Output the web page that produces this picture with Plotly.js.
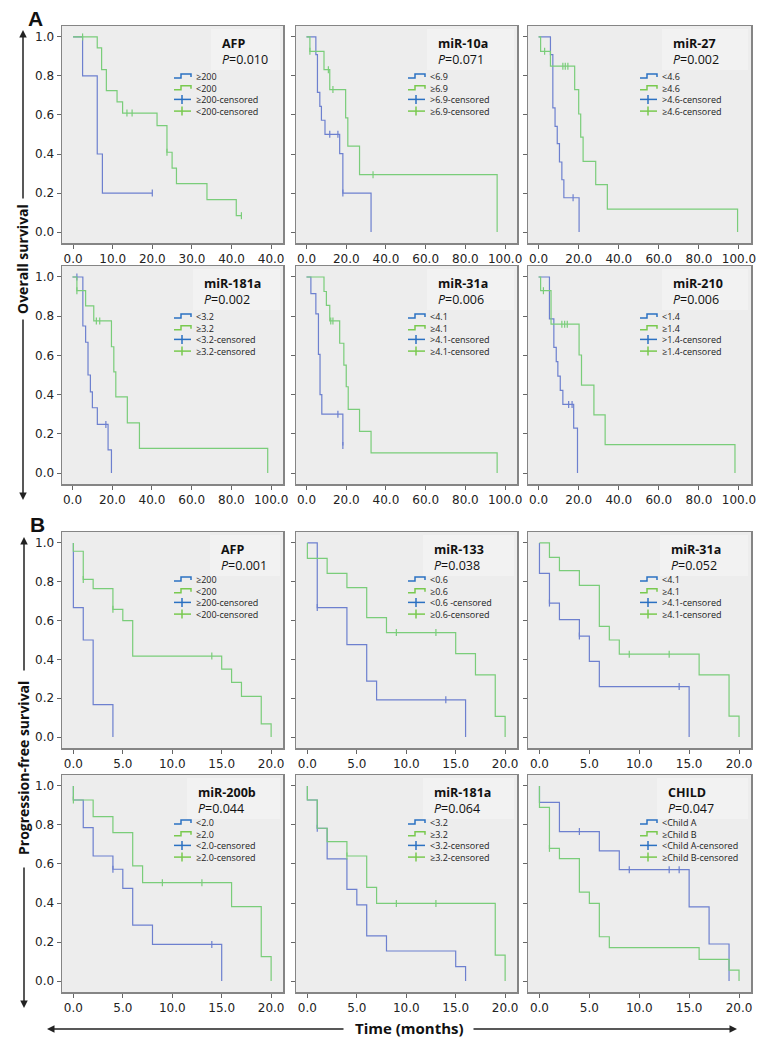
<!DOCTYPE html>
<html>
<head>
<meta charset="utf-8">
<script src="https://cdn.plot.ly/plotly-3.0.1.min.js"></script>
<style>html,body{margin:0;padding:0;background:#fff}</style>
</head>
<body>
<div id="chart" style="width:767px;height:1050px"></div>
<script>
// ---- A: overall survival, months (T = event times, S = survival after event, C = censored times) ----
// AFP
const osAfpHiT = [2.4, 6.1, 7.4];
const osAfpHiS = [0.80, 0.40, 0.20];
const osAfpHiC = [20.0];
const osAfpLoT = [6.1, 7.2, 8.4, 11.1, 12.5, 21.2, 23.7, 25.0, 26.1, 33.8, 41.2];
const osAfpLoS = [0.944, 0.832, 0.725, 0.667, 0.610, 0.545, 0.409, 0.328, 0.248, 0.166, 0.084];
const osAfpLoC = [2.4, 13.6, 14.9, 23.7, 42.5];
// miR-10a
const os10aLoT = [4.7, 5.5, 6.7, 7.5, 9.3, 16.7, 18.3, 32.5];
const os10aLoS = [0.909, 0.716, 0.644, 0.573, 0.501, 0.402, 0.20, 0];
const os10aLoC = [11.7, 15.8, 18.3];
const os10aHiT = [1.7, 8.8, 11.7, 19.7, 20.8, 26.7, 96];
const os10aHiS = [0.926, 0.832, 0.73, 0.585, 0.44, 0.294, 0];
const os10aHiC = [1.7, 11.0, 13.3, 33.5];
// miR-27
const os27LoT = [5.9, 7.1, 8.2, 9.3, 10.4, 11.6, 12.6, 20.2];
const os27LoS = [0.909, 0.636, 0.542, 0.453, 0.359, 0.268, 0.176, 0];
const os27LoC = [17.2];
const os27HiT = [1.0, 5.9, 18.0, 20.0, 21.0, 22.2, 28.5, 34.3, 99.3];
const os27HiS = [0.926, 0.85, 0.73, 0.605, 0.487, 0.362, 0.243, 0.118, 0];
const os27HiC = [3.0, 12.1, 13.3, 14.6];
// miR-181a
const os181LoT = [5.2, 6.6, 7.8, 9.0, 10.0, 12.5, 17.9, 19.6];
const os181LoS = [0.75, 0.667, 0.50, 0.414, 0.333, 0.248, 0.118, 0];
const os181LoC = [2.2, 16.8];
const os181HiT = [2.2, 6.6, 10.7, 19.6, 20.8, 21.8, 27.6, 33.7, 98.3];
const os181HiS = [0.93, 0.853, 0.776, 0.644, 0.516, 0.388, 0.256, 0.126, 0];
const os181HiC = [2.2, 12.0, 13.7];
// miR-31a
const os31LoT = [2.2, 4.7, 6.0, 6.8, 7.7, 18.3];
const os31LoS = [0.915, 0.812, 0.605, 0.40, 0.30, 0.14];
const os31LoC = [15.8, 18.3];
const os31HiT = [8.8, 10.0, 11.7, 16.7, 18.8, 20.0, 21.0, 26.7, 32.5, 96];
const os31HiS = [0.926, 0.855, 0.776, 0.662, 0.55, 0.44, 0.325, 0.212, 0.103, 0];
const os31HiC = [12.2, 13.3];
// miR-210
const os210LoT = [5.4, 7.6, 8.8, 9.6, 10.8, 12.1, 17.5, 19.4];
const os210LoS = [0.786, 0.641, 0.568, 0.494, 0.422, 0.35, 0.229, 0];
const os210LoC = [15.0, 16.7];
const os210HiT = [1.0, 6.2, 20.2, 21.4, 27.6, 33.2, 98];
const os210HiS = [0.93, 0.759, 0.602, 0.448, 0.297, 0.145, 0];
const os210HiC = [2.4, 11.6, 13.0, 14.3];

// ---- B: progression-free survival, months ----
// AFP
const pfsAfpHiT = [0, 1, 2, 4];
const pfsAfpHiS = [0.667, 0.5, 0.167, 0];
const pfsAfpHiC = [];
const pfsAfpLoT = [0, 1, 2, 4, 5, 6, 15, 16, 17, 19, 20];
const pfsAfpLoS = [0.957, 0.812, 0.764, 0.658, 0.60, 0.417, 0.35, 0.282, 0.21, 0.068, 0];
const pfsAfpLoC = [1, 4, 14];
// miR-133
const pfs133LoT = [1, 4, 6, 7, 16];
const pfs133LoS = [0.667, 0.476, 0.288, 0.192, 0];
const pfs133LoC = [1, 14];
const pfs133HiT = [0, 2, 4, 6, 8, 15, 17, 19, 20];
const pfs133HiS = [0.92, 0.843, 0.77, 0.615, 0.538, 0.43, 0.32, 0.107, 0];
const pfs133HiC = [9, 13];
// miR-31a
const pfs31LoT = [0, 1, 2, 4, 5, 6, 15];
const pfs31LoS = [0.843, 0.69, 0.605, 0.52, 0.39, 0.26, 0];
const pfs31LoC = [1, 4, 14];
const pfs31HiT = [1, 2, 4, 6, 7, 8, 16, 19, 20];
const pfs31HiS = [0.925, 0.857, 0.781, 0.57, 0.50, 0.427, 0.32, 0.108, 0];
const pfs31HiC = [9, 13];
// miR-200b
const pfs200LoT = [0, 1, 2, 4, 5, 6, 8, 15];
const pfs200LoS = [0.928, 0.786, 0.641, 0.573, 0.475, 0.287, 0.188, 0];
const pfs200LoC = [4, 14];
const pfs200HiT = [0, 2, 4, 6, 7, 16, 19, 20];
const pfs200HiS = [0.928, 0.843, 0.761, 0.59, 0.504, 0.381, 0.125, 0];
const pfs200HiC = [0, 9, 13];
// miR-181a
const pfs181LoT = [0, 1, 2, 4, 5, 6, 8, 15, 16];
const pfs181LoS = [0.928, 0.783, 0.626, 0.47, 0.39, 0.232, 0.154, 0.074, 0];
const pfs181LoC = [1];
const pfs181HiT = [0, 1, 2, 4, 6, 7, 19, 20];
const pfs181HiS = [0.928, 0.783, 0.715, 0.641, 0.48, 0.398, 0.133, 0];
const pfs181HiC = [4, 9, 13];
// CHILD
const pfsChildAT = [0, 2, 6, 8, 15, 17, 19];
const pfsChildAS = [0.916, 0.766, 0.667, 0.571, 0.38, 0.19, 0];
const pfsChildAC = [4, 9, 13, 14];
const pfsChildBT = [0, 1, 2, 4, 5, 6, 7, 16, 19, 20];
const pfsChildBS = [0.89, 0.68, 0.627, 0.456, 0.398, 0.227, 0.171, 0.111, 0.056, 0];
const pfsChildBC = [1];

// panel texts
const panelTitles = ['AFP', 'miR-10a', 'miR-27', 'miR-181a', 'miR-31a', 'miR-210',
                     'AFP', 'miR-133', 'miR-31a', 'miR-200b', 'miR-181a', 'CHILD'];
const pValues = ['0.010', '0.071', '0.002', '0.002', '0.006', '0.006',
                 '0.001', '0.038', '0.052', '0.044', '0.064', '0.047'];
const blueLabels = ['≥200', '<6.9', '<4.6', '<3.2', '<4.1', '<1.4',
                    '≥200', '<0.6', '<4.1', '<2.0', '<3.2', '<Child A'];
const greenLabels = ['<200', '≥6.9', '≥4.6', '≥3.2', '≥4.1', '≥1.4',
                     '<200', '≥0.6', '≥4.1', '≥2.0', '≥3.2', '≥Child B'];
const blueCensLabels = ['≥200-censored', '>6.9-censored', '>4.6-censored', '<3.2-censored', '>4.1-censored', '>1.4-censored',
                        '≥200-censored', '<0.6 -censored', '>4.1-censored', '<2.0-censored', '<3.2-censored', '<Child A-censored'];
const greenCensLabels = ['<200-censored', '≥6.9-censored', '≥4.6-censored', '≥3.2-censored', '≥4.1-censored', '≥1.4-censored',
                         '<200-censored', '≥0.6-censored', '≥4.1-censored', '≥2.0-censored', '≥3.2-censored', '≥Child B-censored'];
const afpOsTickVals = [0, 10, 20, 30, 40, 50];
const afpOsTickText = ['0.0', '10.0', '20.0', '30.0', '40.0', '40.0'];

const blueCurves = [
  [osAfpHiT, osAfpHiS, osAfpHiC], [os10aLoT, os10aLoS, os10aLoC], [os27LoT, os27LoS, os27LoC],
  [os181LoT, os181LoS, os181LoC], [os31LoT, os31LoS, os31LoC], [os210LoT, os210LoS, os210LoC],
  [pfsAfpHiT, pfsAfpHiS, pfsAfpHiC], [pfs133LoT, pfs133LoS, pfs133LoC], [pfs31LoT, pfs31LoS, pfs31LoC],
  [pfs200LoT, pfs200LoS, pfs200LoC], [pfs181LoT, pfs181LoS, pfs181LoC], [pfsChildAT, pfsChildAS, pfsChildAC]
];
const greenCurves = [
  [osAfpLoT, osAfpLoS, osAfpLoC], [os10aHiT, os10aHiS, os10aHiC], [os27HiT, os27HiS, os27HiC],
  [os181HiT, os181HiS, os181HiC], [os31HiT, os31HiS, os31HiC], [os210HiT, os210HiS, os210HiC],
  [pfsAfpLoT, pfsAfpLoS, pfsAfpLoC], [pfs133HiT, pfs133HiS, pfs133HiC], [pfs31HiT, pfs31HiS, pfs31HiC],
  [pfs200HiT, pfs200HiS, pfs200HiC], [pfs181HiT, pfs181HiS, pfs181HiC], [pfsChildBT, pfsChildBS, pfsChildBC]
];

// layout (pixels)
const W = 767, H = 1050;
const cols = [[62, 283], [296, 517], [528, 751]];
const rows = [[26, 243], [266, 484], [532, 748], [775, 992]];
const labelLeft = [159, 141, 144, 141, 141, 144, 158, 137, 142, 135, 137, 139];
const BLUE = '#6d80cf', GREEN = '#7acd7a';
const BLUE_KEY = '#2b71c2', GREEN_KEY = '#79c94f';
const LEG_FONT = 9, LEG_STEP = LEG_FONT * 1.3;
const px = v => v / W, py = v => 1 - v / H;

function stepXY(t, s, c) {
  const x = [0].concat(t), y = [1].concat(s);
  const lastT = t[t.length - 1];
  const lastC = c.length ? Math.max(...c) : -1;
  if (lastC > lastT) { x.push(lastC); y.push(s[s.length - 1]); }
  return {x, y};
}
function survAt(t, s, time) {
  let v = 1;
  t.forEach((ti, i) => { if (ti <= time) v = s[i]; });
  return v;
}

const traces = [], shapes = [], annotations = [];
const layout = {
  width: W, height: H,
  margin: {l: 0, r: 0, t: 0, b: 0},
  paper_bgcolor: '#ffffff',
  plot_bgcolor: '#ededed',
  showlegend: false,
  font: {family: 'DejaVu Sans', size: 12, color: '#222'}
};

for (let i = 0; i < 12; i++) {
  const r = Math.floor(i / 3), c = i % 3;
  const sfx = i === 0 ? '' : String(i + 1);
  const xa = 'x' + sfx, ya = 'y' + sfx;
  const [left, right] = cols[c], [top, bottom] = rows[r];

  [[blueCurves[i], BLUE], [greenCurves[i], GREEN]].forEach(([cv, col]) => {
    const [t, s, cens] = cv;
    const st = stepXY(t, s, cens);
    traces.push({type: 'scatter', mode: 'lines', x: st.x, y: st.y, xaxis: xa, yaxis: ya,
      line: {shape: 'hv', color: col, width: 1.2}, hoverinfo: 'skip'});
    if (cens.length) {
      traces.push({type: 'scatter', mode: 'markers', x: cens, y: cens.map(v => survAt(t, s, v)),
        xaxis: xa, yaxis: ya, hoverinfo: 'skip',
        marker: {symbol: 'line-ns', size: 5, line: {color: col, width: 1.2}}});
    }
  });

  let xr, xt;
  if (i === 0) { xr = [-2.8, 53]; xt = {tickvals: afpOsTickVals, ticktext: afpOsTickText}; }
  else if (i < 6) { xr = [-5.3, 106]; xt = {tick0: 0, dtick: 20, tickformat: '.1f'}; }
  else { xr = [-1.15, 21.2]; xt = {tick0: 0, dtick: 5, tickformat: '.1f'}; }

  const common = {showline: true, mirror: true, linecolor: '#858585', linewidth: 1.5,
    ticks: 'outside', ticklen: 4, tickcolor: '#666', showgrid: false, zeroline: false,
    fixedrange: true, tickfont: {family: 'DejaVu Sans', size: 12, color: '#222'}};
  layout['xaxis' + sfx] = Object.assign({}, common, xt, {
    domain: [px(left), px(right)], range: xr, anchor: ya});
  layout['yaxis' + sfx] = Object.assign({}, common, {
    domain: [py(bottom), py(top)], range: [-0.056, 1.056], anchor: xa,
    tick0: 0, dtick: 0.2, tickformat: '.1f', showticklabels: c === 0});

  // label area: marker name and P value
  const lx = left + labelLeft[i];
  shapes.push({type: 'rect', xref: 'paper', yref: 'paper', layer: 'below',
    x0: px(lx - 10), x1: px(right - 3), y0: py(top + 44), y1: py(top + 3),
    fillcolor: '#f2f2f2', line: {width: 0}});
  annotations.push({xref: 'paper', yref: 'paper', x: px(lx), y: py(top + 25), xanchor: 'left', yanchor: 'middle',
    align: 'left', borderpad: 0,
    text: '<b>' + panelTitles[i] + '</b><br><i>P</i>=' + pValues[i], showarrow: false,
    font: {family: 'Open Sans', size: 12.5, color: '#111'}});

  // legend block: one text, icons beside each line
  const labels = [blueLabels[i], greenLabels[i], blueCensLabels[i], greenCensLabels[i]];
  const firstRow = top + (r < 2 ? 50 : 47);
  const ix = left + 112, iw = 17, tx = left + 133;
  const midY = firstRow + 1.5 * LEG_STEP;
  annotations.push({xref: 'paper', yref: 'paper', x: px(tx), y: py(midY), xanchor: 'left', yanchor: 'middle',
    align: 'left', borderpad: 0, text: labels.join('<br>'), showarrow: false,
    font: {family: 'Open Sans', size: LEG_FONT, color: '#222'}});
  labels.forEach((lab, k) => {
    const yy = firstRow + k * LEG_STEP;
    const col = k % 2 === 0 ? BLUE_KEY : GREEN_KEY;
    if (k < 2) {
      shapes.push({type: 'path', xref: 'paper', yref: 'paper',
        path: `M${px(ix)},${py(yy + 2)} L${px(ix + 7)},${py(yy + 2)} L${px(ix + 7)},${py(yy - 2)} L${px(ix + iw)},${py(yy - 2)} L${px(ix + iw)},${py(yy + 1)}`,
        line: {color: col, width: 1.5}});
    } else {
      shapes.push({type: 'line', xref: 'paper', yref: 'paper',
        x0: px(ix), x1: px(ix + iw), y0: py(yy), y1: py(yy), line: {color: col, width: 1.5}});
      shapes.push({type: 'line', xref: 'paper', yref: 'paper',
        x0: px(ix + 8), x1: px(ix + 8), y0: py(yy - 4.5), y1: py(yy + 4.5), line: {color: col, width: 1.5}});
    }
  });
}

// section letters, axis titles and arrows
const boldText = (txt, x, y, size, angle, fam) => ({xref: 'paper', yref: 'paper', x: px(x), y: py(y),
  xanchor: 'center', yanchor: 'middle', text: '<b>' + txt + '</b>', showarrow: false, textangle: angle || 0,
  font: {family: fam || 'Open Sans', size: size, color: '#111'}});
annotations.push(boldText('A', 35, 19, 21, 0, 'Liberation Sans'));
annotations.push(boldText('B', 37, 524, 21, 0, 'Liberation Sans'));
annotations.push(boldText('Overall survival', 22, 259, 14, -90));
annotations.push(boldText('Progression-free survival', 23, 768, 14, -90));
annotations.push(boldText('Time (months)', 409, 1028, 15, 0));

const arrow = (x, y, ax, ay) => ({xref: 'paper', yref: 'paper', x: px(x), y: py(y), ax: ax, ay: ay,
  text: '', showarrow: true, arrowhead: 2, arrowsize: 1, arrowwidth: 1.5, arrowcolor: '#222', standoff: 0});
annotations.push(arrow(23, 30, 0, 170));
annotations.push(arrow(23, 500, 0, -182));
annotations.push(arrow(24, 537, 0, 135));
annotations.push(arrow(24, 1008, 0, -142));
annotations.push(arrow(47, 1029, 298, 0));
annotations.push(arrow(737, 1029, -265, 0));

layout.shapes = shapes;
layout.annotations = annotations;

Plotly.newPlot('chart', traces, layout, {displayModeBar: false, staticPlot: true});
</script>
</body>
</html>
